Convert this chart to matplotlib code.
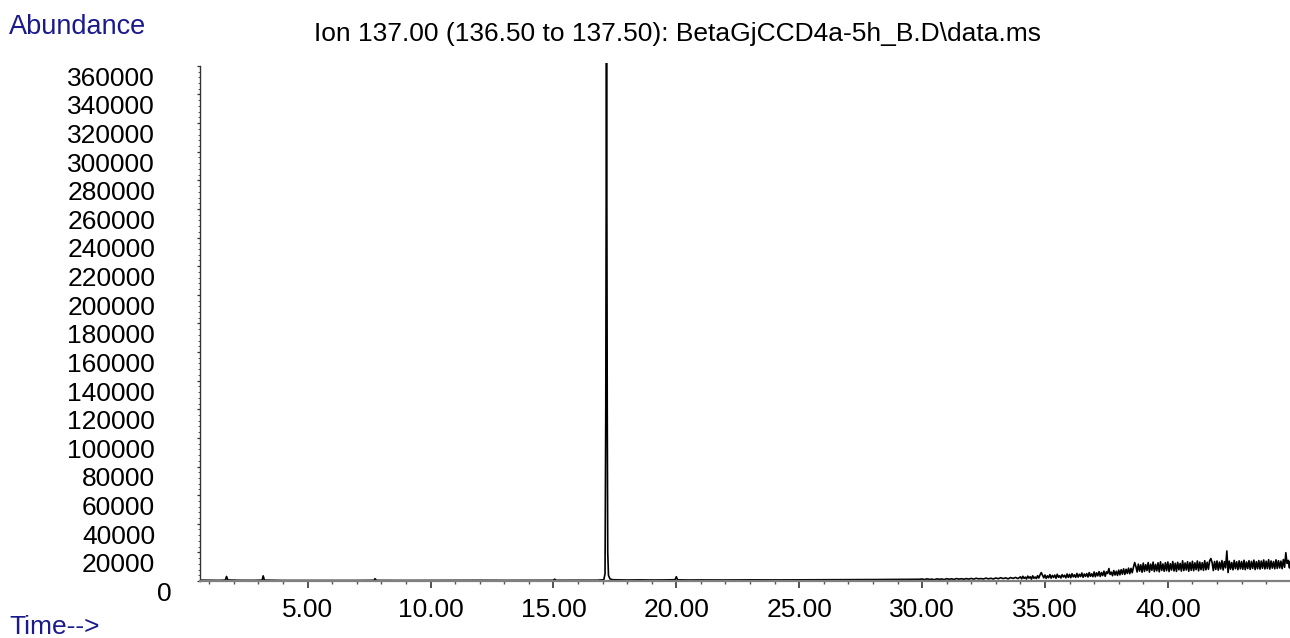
import matplotlib
matplotlib.use("Agg")
import matplotlib.pyplot as plt
import matplotlib.transforms as mtransforms
from matplotlib.ticker import MultipleLocator

plt.rcParams["font.family"] = ["Liberation Sans", "DejaVu Sans"]

# retention time (min) and abundance
time_early = [0.62, 1.0, 1.4, 1.65, 1.70, 1.75, 2.2, 2.8, 3.15, 3.19, 3.24, 4.0, 5.0, 6.0,
              7.0, 7.7, 7.74, 7.8, 9.0, 10.0, 11.0, 12.0, 13.0, 14.0, 15.0, 15.05, 15.1,
              16.0, 16.8, 17.05, 17.10, 17.13, 17.16, 17.19, 17.21, 17.24, 17.30, 17.40,
              17.7, 18.0, 18.5, 19.0, 19.5, 19.95, 20.0, 20.05, 20.5, 21.0, 22.0, 23.0,
              24.0, 25.0, 26.0, 27.0, 28.0, 29.0, 29.9]
abund_early = [600, 500, 450, 600, 3200, 700, 500, 450, 600, 3600, 600, 400, 400, 450,
               400, 500, 1600, 450, 400, 450, 450, 500, 450, 500, 500, 1300, 500,
               500, 550, 900, 5000, 120000, 390000, 120000, 20000, 4000, 1500, 900,
               800, 700, 800, 700, 750, 900, 3000, 800, 700, 750, 700, 800,
               750, 800, 900, 950, 1000, 1100, 1200]

# 30-34 min, 0.1 min steps
time_mid = [30.0, 30.1, 30.2, 30.3, 30.4, 30.5, 30.6, 30.7, 30.8, 30.9,
            31.0, 31.1, 31.2, 31.3, 31.4, 31.5, 31.6, 31.7, 31.8, 31.9,
            32.0, 32.1, 32.2, 32.3, 32.4, 32.5, 32.6, 32.7, 32.8, 32.9,
            33.0, 33.1, 33.2, 33.3, 33.4, 33.5, 33.6, 33.7, 33.8, 33.9]
abund_mid = [1400, 1000, 1500, 1100, 1300, 900, 1500, 1200, 1400, 1000,
             1600, 1200, 1500, 1100, 1700, 1300, 1600, 1200, 1700, 1300,
             1800, 1300, 1900, 1500, 1700, 1400, 2000, 1500, 1900, 1400,
             2100, 1600, 2300, 1700, 2200, 1500, 2400, 1800, 2500, 1700]

# 34-45 min, 0.05 min steps (noisy tail)
time_late = [
    34.00, 34.05, 34.10, 34.15, 34.20, 34.25, 34.30, 34.35, 34.40, 34.45,
    34.50, 34.55, 34.60, 34.65, 34.70, 34.75, 34.80, 34.85, 34.90, 34.95,
    35.00, 35.05, 35.10, 35.15, 35.20, 35.25, 35.30, 35.35, 35.40, 35.45,
    35.50, 35.55, 35.60, 35.65, 35.70, 35.75, 35.80, 35.85, 35.90, 35.95,
    36.00, 36.05, 36.10, 36.15, 36.20, 36.25, 36.30, 36.35, 36.40, 36.45,
    36.50, 36.55, 36.60, 36.65, 36.70, 36.75, 36.80, 36.85, 36.90, 36.95,
    37.00, 37.05, 37.10, 37.15, 37.20, 37.25, 37.30, 37.35, 37.40, 37.45,
    37.50, 37.55, 37.60, 37.65, 37.70, 37.75, 37.80, 37.85, 37.90, 37.95,
    38.00, 38.05, 38.10, 38.15, 38.20, 38.25, 38.30, 38.35, 38.40, 38.45,
    38.50, 38.55, 38.60, 38.65, 38.70, 38.75, 38.80, 38.85, 38.90, 38.95,
    39.00, 39.05, 39.10, 39.15, 39.20, 39.25, 39.30, 39.35, 39.40, 39.45,
    39.50, 39.55, 39.60, 39.65, 39.70, 39.75, 39.80, 39.85, 39.90, 39.95,
    40.00, 40.05, 40.10, 40.15, 40.20, 40.25, 40.30, 40.35, 40.40, 40.45,
    40.50, 40.55, 40.60, 40.65, 40.70, 40.75, 40.80, 40.85, 40.90, 40.95,
    41.00, 41.05, 41.10, 41.15, 41.20, 41.25, 41.30, 41.35, 41.40, 41.45,
    41.50, 41.55, 41.60, 41.65, 41.70, 41.75, 41.80, 41.85, 41.90, 41.95,
    42.00, 42.05, 42.10, 42.15, 42.20, 42.25, 42.30, 42.35, 42.40, 42.45,
    42.50, 42.55, 42.60, 42.65, 42.70, 42.75, 42.80, 42.85, 42.90, 42.95,
    43.00, 43.05, 43.10, 43.15, 43.20, 43.25, 43.30, 43.35, 43.40, 43.45,
    43.50, 43.55, 43.60, 43.65, 43.70, 43.75, 43.80, 43.85, 43.90, 43.95,
    44.00, 44.05, 44.10, 44.15, 44.20, 44.25, 44.30, 44.35, 44.40, 44.45,
    44.50, 44.55, 44.60, 44.65, 44.70, 44.75, 44.80, 44.85, 44.90, 44.95,
    44.97]
abund_late = [
    2900, 1500, 3300, 1800, 2700, 1400, 3400, 2000, 3000, 1300,
    3600, 1900, 2800, 1700, 3700, 2100, 4300, 5900, 4100, 2200,
    4200, 1800, 3600, 2300, 4500, 2000, 3900, 2500, 4100, 1900,
    4700, 2600, 3700, 2100, 4400, 2800, 4000, 2200, 4900, 2500,
    4600, 2300, 5100, 2900, 4300, 2500, 5300, 2700, 4700, 3100,
    5600, 2600, 4900, 3200, 5200, 2800, 5900, 3300, 5000, 3000,
    6300, 3000, 5700, 3600, 6600, 3200, 5900, 3800, 6900, 3300,
    6400, 5200, 8700, 4600, 6200, 3700, 7300, 4200, 6800, 3900,
    7600, 4300, 7900, 4800, 8500, 4600, 8200, 5300, 9000, 5100,
    8800, 5800, 9600, 12900, 10100, 6300, 11800, 6900, 11300, 6100,
    12500, 6700, 11400, 7300, 12900, 6200, 11800, 7500, 13200, 6600,
    11600, 7100, 12700, 6400, 13400, 7400, 11900, 6800, 12800, 7200,
    13300, 6600, 12100, 7600, 13600, 7000, 12400, 6700, 13100, 7800,
    12300, 6900, 14100, 7300, 12600, 7700, 13500, 6800, 12900, 7500,
    13800, 7200, 12700, 8000, 14000, 7100, 13200, 7900, 12800, 7400,
    14200, 7800, 13100, 8200, 14100, 15700, 12900, 7300, 13600, 8100,
    14000, 7600, 13200, 8400, 14300, 7700, 13500, 9200, 21000, 5900,
    13900, 8300, 12900, 7800, 14400, 8600, 13400, 7900, 14100, 8500,
    13600, 8200, 14500, 7900, 13300, 8700, 14200, 8100, 13700, 8800,
    14600, 8000, 13500, 8600, 14300, 8300, 13900, 8900, 14700, 8400,
    13800, 8700, 14900, 8300, 14000, 9000, 13600, 8500, 14800, 8800,
    14200, 9100, 13900, 8600, 15000, 9600, 19800, 12300, 14400, 9100,
    13500]

ytick_vals = list(range(0, 360001, 20000))
xtick_vals = [5, 10, 15, 20, 25, 30, 35, 40]

W, H = 1290, 638
fig = plt.figure(figsize=(W / 100, H / 100), dpi=100)
ax = fig.add_axes([200 / W, 1 - 581 / H, 1 - 200 / W, (581 - 63) / H])

t = time_early + time_mid + time_late
a = abund_early + abund_mid + abund_late
ax.plot(t, a, color="black", lw=1.2)

ax.set_xlim(0.62, 44.97)
ax.set_ylim(0, 362000)

for s in ["top", "right"]:
    ax.spines[s].set_visible(False)
ax.spines["bottom"].set_color("#808080")
ax.spines["bottom"].set_linewidth(1.6)
ax.spines["left"].set_color("#333333")
ax.spines["left"].set_linewidth(1.0)
ax.spines["left"].set_bounds(0, 360000)

ax.set_xticks(xtick_vals)
ax.set_xticklabels(["%.2f" % v for v in xtick_vals])
ax.xaxis.set_minor_locator(MultipleLocator(1))
ax.set_yticks(ytick_vals)
ax.set_yticklabels([str(v) for v in ytick_vals])
ax.yaxis.set_minor_locator(MultipleLocator(4000))

ax.tick_params(axis="x", which="major", direction="out", length=5, width=1.3,
               color="#444444", labelsize=19, pad=7)
ax.tick_params(axis="x", which="minor", direction="out", length=2.5, width=1.0,
               color="#555555")
ax.tick_params(axis="y", which="major", direction="out", length=2.3, width=0.9,
               color="#333333", labelsize=19, pad=30)
ax.tick_params(axis="y", which="minor", direction="out", length=1.2, width=0.7,
               color="#555555")

# y labels sit a little below their ticks, and the "0" stands further right
for lab in ax.get_yticklabels():
    dx = 12 / 72 if lab.get_text() == "0" else 0
    off = mtransforms.ScaledTranslation(dx, -7.5 / 72, fig.dpi_scale_trans)
    lab.set_transform(lab.get_transform() + off)

navy = "#1a1a8c"
fig.text(9 / W, 1 - 34 / H, "Abundance", color=navy, fontsize=19.5,
         ha="left", va="baseline")
fig.text(9 / W, 1 - 634 / H, "Time-->", color=navy, fontsize=19,
         ha="left", va="baseline")
fig.text(678 / W, 1 - 41.5 / H,
         "Ion 137.00 (136.50 to 137.50): BetaGjCCD4a-5h_B.D\\data.ms",
         color="black", fontsize=19, ha="center", va="baseline")

fig.savefig("out.png", dpi=100)
